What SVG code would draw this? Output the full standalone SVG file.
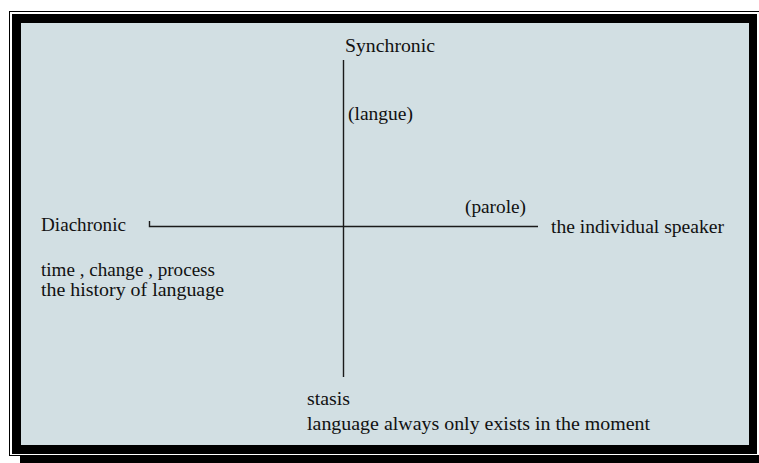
<svg xmlns="http://www.w3.org/2000/svg" width="759" height="463" viewBox="0 0 759 463">
<style>
.t{font-family:"Liberation Serif","Times New Roman",serif;font-size:19px;fill:#111}
.ax{stroke:#1a1a1a;stroke-width:1.4;fill:none}
</style>
<rect width="759" height="463" fill="#fff"/>
<g id="frame">
<rect x="20" y="456" width="739" height="7" fill="#000"/>
<rect x="9" y="11" width="750" height="445" fill="#000"/>
<rect x="10" y="12" width="749" height="443" fill="#fff"/>
<rect x="12" y="14" width="745" height="440" fill="#000"/>
<rect x="21" y="23" width="728" height="422" fill="#d2dfe3"/>
</g>
<g id="connectors">
<path class="ax" d="M343.5 60 V377"/>
<path class="ax" d="M149.5 221 V226.5 H538"/>
</g>
<g id="synchronic"><text class="t" x="345" y="52" textLength="90" lengthAdjust="spacingAndGlyphs">Synchronic</text></g>
<g id="langue"><text class="t" x="348" y="120" textLength="65" lengthAdjust="spacingAndGlyphs">(langue)</text></g>
<g id="parole"><text class="t" x="465" y="213" textLength="61" lengthAdjust="spacingAndGlyphs">(parole)</text></g>
<g id="diachronic"><text class="t" x="41" y="231" textLength="85" lengthAdjust="spacingAndGlyphs">Diachronic</text></g>
<g id="speaker"><text class="t" x="551" y="233" textLength="173" lengthAdjust="spacingAndGlyphs">the individual speaker</text></g>
<g id="diachronic-notes">
<text class="t" x="41" y="276" textLength="174" lengthAdjust="spacingAndGlyphs">time , change , process</text>
<text class="t" x="41" y="296" textLength="183" lengthAdjust="spacingAndGlyphs">the history of language</text>
</g>
<g id="stasis">
<text class="t" x="307" y="405" textLength="43" lengthAdjust="spacingAndGlyphs">stasis</text>
<text class="t" x="307" y="430" textLength="343" lengthAdjust="spacingAndGlyphs">language always only exists in the moment</text>
</g>
</svg>
